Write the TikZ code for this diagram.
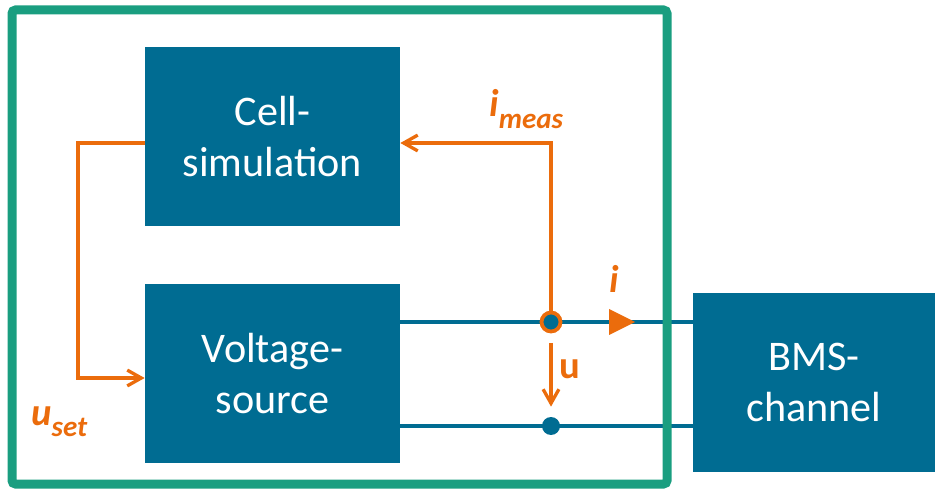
\documentclass[tikz,border=0pt]{standalone}
\usepackage{fontspec}
\setmainfont{Carlito}
\usepackage{tikz}
\usetikzlibrary{arrows.meta}

\definecolor{boxblue}{RGB}{0,108,146}
\definecolor{sigorange}{RGB}{235,108,12}
\definecolor{framegreen}{RGB}{26,158,128}

\newcommand{\subtxt}[1]{\raisebox{-0.3em}{\fontsize{16.5}{16.5}\selectfont #1}}

\begin{document}
\begin{tikzpicture}[
                x=0.02cm, y=-0.02cm,
                block/.style={fill=boxblue, text=white, align=center, inner sep=0pt, font=\fontsize{24}{29}\selectfont},
                wire/.style={draw=boxblue, line width=4*0.02cm},
                signal/.style={draw=sigorange, line width=3.3*0.02cm, -{Straight Barb[length=8pt, width=9pt]}},
                lbl/.style={text=sigorange, inner sep=0pt, font=\fontsize{22}{26}\selectfont\bfseries\itshape}]

            \useasboundingbox (0,0) rectangle (936,489);

            % Bloecke
            \node[block, minimum width=5.1cm, minimum height=3.58cm] (cellsim) at (272.5,136.5) {Cell-\\simulation};
            \node[block, minimum width=5.1cm, minimum height=3.58cm] (voltsrc) at (272.5,373.5) {Voltage-\\source};
            \node[block, minimum width=4.84cm, minimum height=3.6cm] (bms) at (814,382.5) {BMS-\\channel};

            % Leitungen
            \coordinate (jt) at (551,322);
            \coordinate (jb) at (551,426);
            \draw[wire] (voltsrc.east |- jt) -- (bms.west |- jt);
            \draw[wire] (voltsrc.east |- jb) -- (bms.west |- jb);
            \node[circle, fill=boxblue, draw=sigorange, line width=3.8*0.02cm, minimum size=0.38cm, inner sep=0pt] (jtop) at (jt) {};
            \node[circle, fill=boxblue, minimum size=0.36cm, inner sep=0pt] (jbot) at (jb) {};
            \fill[sigorange] (609,309) -- (635,322) -- (609,335) -- cycle;

            % Signale
            \coordinate (imeas) at (551,143);
            \coordinate (uset1) at (78,143);
            \coordinate (uset2) at (78,378);
            \draw[signal] (jtop.north) -- (imeas) -- (cellsim.east |- imeas);
            \draw[signal] (cellsim.west |- imeas) -- (uset1) -- (uset2) -- (voltsrc.west |- uset2);
            \draw[signal, shorten <=0.19cm, shorten >=0.2cm] (jtop.south) -- (jbot.north);

            % Beschriftung
            \node[lbl, anchor=base west] (limeas) at (489,117) {i\subtxt{meas}};
            \node[lbl, anchor=base west] (luset) at (31,425) {u\subtxt{set}};
            \node[lbl, anchor=base] (li) at (614,293) {i};
            \node[lbl, anchor=base west, font=\fontsize{22}{26}\selectfont\bfseries] (lu) at (559,378) {u};

            % Rahmen
            \draw[framegreen, line width=9*0.02cm, rounded corners=2pt] (12,10) rectangle (667,484);

        \end{tikzpicture}
\end{document}
